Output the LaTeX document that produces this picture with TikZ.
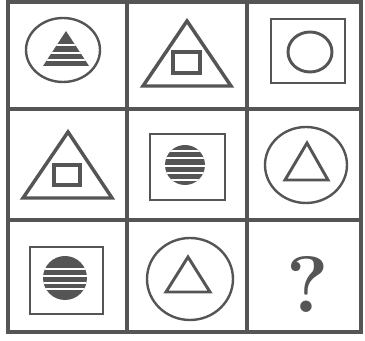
\documentclass[tikz,border=0pt]{standalone}
\definecolor{inkgray}{RGB}{85,85,85}
\tikzset{every picture/.style={line width=0.75pt}}
\tikzset{
  gridline/.style={draw=inkgray, line width=2.4pt},
  figline/.style={draw=inkgray, line width=2.2pt},
  thinline/.style={draw=inkgray, line width=1.8pt},
  figfill/.style={fill=inkgray, draw=none},
  stripe/.style={draw=white, line width=1.2pt}
}

\begin{document}
\begin{tikzpicture}[x=0.75pt,y=0.75pt,yscale=-1,xscale=1]
\path [use as bounding box] (0,0) rectangle (365,341); %set diagram size to 365 x 341

%Shape: Grid
\draw [gridline] (8,2) rectangle (361,332) ;
\draw [gridline] (127,2) -- (127,332) ;
\draw [gridline] (247,2) -- (247,332) ;
\draw [gridline] (8,109) -- (361,109) ;
\draw [gridline] (8,220) -- (361,220) ;

%Shape: Ellipse (row 1, col 1)
\draw [thinline] (63,50) ellipse [x radius=37, y radius=32] ;
%Shape: Striped Triangle
\begin{scope}
\clip (66,31) -- (89,66) -- (43,66) -- cycle ;
\fill [inkgray] (40,28) rectangle (92,68) ;
\foreach \y in {45,53,60} {\draw [stripe] (40,\y) -- (92,\y) ;}
\end{scope}

%Shape: Triangle (row 1, col 2)
\draw [figline, line width=2.6pt] (187,21) -- (231,86) -- (143,86) -- cycle ;
%Shape: Square
\draw [figline, line width=2.8pt] (173,52) rectangle (200,73) ;

%Shape: Square (row 1, col 3)
\draw [figline] (271,19) rectangle (345,83) ;
%Shape: Ellipse
\draw [figline] (310,52) ellipse [x radius=22, y radius=20] ;

%Shape: Triangle (row 2, col 1)
\draw [figline, line width=2.6pt] (68,132) -- (112,198) -- (23,198) -- cycle ;
%Shape: Square
\draw [figline, line width=2.8pt] (54,165) rectangle (80,185) ;

%Shape: Square (row 2, col 2)
\draw [figline] (150,134) rectangle (225,200) ;
%Shape: Striped Circle
\begin{scope}
\clip (185,165) ellipse [x radius=20, y radius=20] ;
\fill [inkgray] (163,143) rectangle (207,187) ;
\foreach \y in {151,158,166,173,180} {\draw [stripe] (163,\y) -- (207,\y) ;}
\end{scope}

%Shape: Ellipse (row 2, col 3)
\draw [thinline] (306,165) ellipse [x radius=41, y radius=38] ;
%Shape: Triangle
\draw [figline] (307,143) -- (328,180) -- (285,180) -- cycle ;

%Shape: Square (row 3, col 1)
\draw [figline] (30,247) rectangle (103,314) ;
%Shape: Striped Circle
\begin{scope}
\clip (65,278) ellipse [x radius=22, y radius=22] ;
\fill [inkgray] (41,254) rectangle (89,302) ;
\foreach \y in {269,276,283,289} {\draw [stripe] (41,\y) -- (89,\y) ;}
\end{scope}

%Shape: Ellipse (row 3, col 2)
\draw [thinline] (190,279) ellipse [x radius=43, y radius=41] ;
%Shape: Triangle
\draw [figline] (188,257) -- (210,292) -- (166,292) -- cycle ;

% Text Node
\node (quest) at (308,285) [inner sep=0pt, text=inkgray, font=\fontsize{60}{60}\selectfont\bfseries] {?} ;

\end{tikzpicture}
\end{document}
